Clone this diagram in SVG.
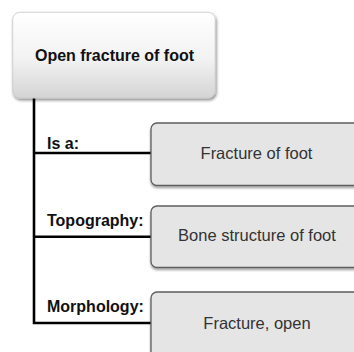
<svg xmlns="http://www.w3.org/2000/svg" width="354" height="352" viewBox="0 0 354 352">
  <defs>
    <linearGradient id="topGrad" x1="0" y1="0" x2="0" y2="1">
      <stop offset="0" stop-color="#ffffff"/>
      <stop offset="0.55" stop-color="#f2f2f2"/>
      <stop offset="1" stop-color="#d4d4d4"/>
    </linearGradient>
    <filter id="shadow" x="-10%" y="-10%" width="130%" height="140%">
      <feGaussianBlur in="SourceAlpha" stdDeviation="1.6"/>
      <feOffset dx="1" dy="2" result="b"/>
      <feComponentTransfer><feFuncA type="linear" slope="0.45"/></feComponentTransfer>
      <feMerge><feMergeNode/><feMergeNode in="SourceGraphic"/></feMerge>
    </filter>
    <filter id="shadow2" x="-10%" y="-10%" width="130%" height="140%">
      <feGaussianBlur in="SourceAlpha" stdDeviation="1"/>
      <feOffset dx="0" dy="1.5" result="b"/>
      <feComponentTransfer><feFuncA type="linear" slope="0.35"/></feComponentTransfer>
      <feMerge><feMergeNode/><feMergeNode in="SourceGraphic"/></feMerge>
    </filter>
  </defs>
  <style>
    .child { fill: #e5e5e5; stroke: #5e5e5e; stroke-width: 1.3; }
    .childText { font-family: "Liberation Sans", Arial, sans-serif; font-size: 16.5px; fill: #333333; text-anchor: middle; }
    .label { font-family: "Liberation Sans", Arial, sans-serif; font-size: 16px; font-weight: bold; fill: #111111; }
    .conn { stroke: #000000; stroke-width: 2.6; fill: none; }
  </style>
  <rect width="354" height="352" fill="#ffffff"/>

  <g id="connectors">
    <polyline class="conn" points="34,98 34,323 151,323"/>
    <line class="conn" x1="34" y1="153" x2="151" y2="153"/>
    <line class="conn" x1="34" y1="236.7" x2="151" y2="236.7"/>
  </g>

  <g id="labels">
    <text class="label" x="47" y="149">Is a:</text>
    <text class="label" x="47" y="226">Topography:</text>
    <text class="label" x="47" y="312">Morphology:</text>
  </g>

  <g id="node-root">
    <rect x="12.7" y="12.3" width="202.5" height="85.7" rx="7" ry="7" fill="url(#topGrad)" stroke="#c8c8c8" stroke-width="0.8" filter="url(#shadow)"/>
    <text x="114.5" y="61" font-family="Liberation Sans, Arial, sans-serif" font-size="16" font-weight="bold" fill="#111111" text-anchor="middle">Open fracture of foot</text>
  </g>

  <g id="node-isa">
    <rect class="child" x="151" y="123" width="212" height="62.5" rx="6" ry="6" filter="url(#shadow2)"/>
    <text class="childText" x="256.5" y="159">Fracture of foot</text>
  </g>

  <g id="node-topography">
    <rect class="child" x="151" y="206" width="212" height="61.5" rx="6" ry="6" filter="url(#shadow2)"/>
    <text class="childText" x="257" y="241">Bone structure of foot</text>
  </g>

  <g id="node-morphology">
    <rect class="child" x="151" y="292" width="212" height="75" rx="6" ry="6" filter="url(#shadow2)"/>
    <text class="childText" x="257" y="329">Fracture, open</text>
  </g>
</svg>
